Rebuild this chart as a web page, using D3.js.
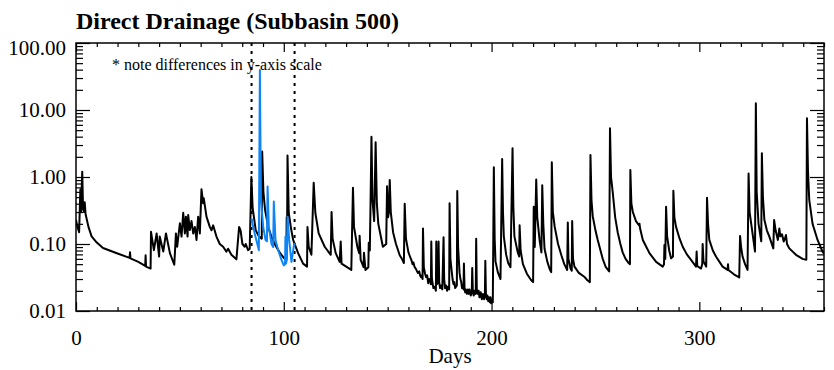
<!DOCTYPE html>
<html>
<head>
<meta charset="utf-8">
<script src="https://cdn.jsdelivr.net/npm/d3@7"></script>
<style>
body { margin: 0; background: #fff; }
text { font-family: "Liberation Serif", "Times New Roman", serif; fill: #000; }
</style>
</head>
<body>
<script>
// Direct drainage, subbasin 500 : [day, value]
var drainage = [
[0,0.23],[0.5,0.19],[1.5,0.15],[2.1,0.65],[2.4,0.3],[3.0,1.2],[3.4,0.33],[3.9,0.3],[4.2,0.42],[4.6,0.28],[6,0.18],[7.5,0.13],[10,0.105],[13,0.087],
[20,0.072],[25.8,0.062],[26,0.075],[26.2,0.061],[30,0.054],[33.3,0.047],[33.5,0.068],[33.7,0.046],[35.9,0.043],
[36.1,0.152],[37.5,0.081],[38.8,0.144],[40,0.065],[40.3,0.129],[42,0.077],[43.3,0.144],[45.2,0.073],[47.3,0.049],[48.1,0.144],[48.7,0.091],[50,0.204],[50.8,0.129],[51.6,0.293],[52.4,0.144],[52.9,0.256],[53.7,0.129],[54,0.27],[54.8,0.162],[55.6,0.22],[56.4,0.144],[57.2,0.18],[58,0.115],[58.8,0.256],[59.6,0.144],[60.4,0.655],[61.2,0.405],[61.5,0.48],[62.8,0.256],[64.4,0.18],[65.2,0.16],[66,0.19],[67.6,0.129],[69.2,0.1],[70.8,0.091],[72.4,0.077],[73.2,0.085],[74.8,0.069],[77.2,0.059],[78.5,0.18],[79.2,0.16],[80.1,0.1],[81.2,0.091],[81.7,0.1],[82.8,0.081],[83.6,0.085],[84.4,1.0],
[85,0.35],[86.5,0.16],[88,0.13],[89.4,0.12],[89.6,2.4],[90.2,0.6],[91,0.32],[92.5,0.18],[94,0.13],[96,0.095],[98,0.075],[100,0.062],[101.2,0.057],[101.4,0.25],[101.6,0.15],[101.8,2.1],[102.4,0.29],[103.5,0.17],[104.5,0.115],[106.9,0.073],[109.3,0.051],[111.2,0.046],[111.4,0.18],[112,0.091],[113.3,0.069],[114.4,0.82],[115.2,0.29],[116.8,0.144],[119.7,0.091],[122.6,0.069],[123,0.3],[123.5,0.12],[125,0.073],[126.9,0.054],[127.4,0.109],[127.8,0.051],[132.5,0.041],[133.3,0.69],[133.8,0.18],[135.4,0.091],[136.3,0.073],[136.5,0.133],[137,0.058],[138.4,0.045],[138.6,0.074],[139.3,0.041],[140.7,0.045],[140.9,0.104],[141.4,0.08],[141.7,0.3],[142.2,4.0],[142.7,0.45],[143.5,0.22],[144.2,3.3],[144.8,0.4],[145.5,0.2],[146.5,0.14],[147.7,0.091],[149.3,0.1],[149.7,0.73],[150.2,0.25],[150.6,0.3],[151,0.9],[151.5,0.3],[152.6,0.15],[154,0.1],[155.8,0.068],[156.6,0.062],[157.2,0.057],[157.8,0.052],[158.2,0.4],[158.8,0.12],[160,0.075],[160.5,0.068],[161,0.062],[161.4,0.058],[162,0.05],[162.4,0.053],[163,0.045],[163.5,0.043],[164,0.04],[164.6,0.037],[165.2,0.039],[165.6,0.034],[166,0.032],[166.4,0.034],[166.8,0.03],[167,0.17],[167.4,0.045],[168,0.036],[168.5,0.032],[169,0.034],[169.5,0.026],[170,0.03],[170.5,0.028],[170.8,0.025],[171,0.109],[171.3,0.03],[172,0.022],[172.6,0.023],[173.2,0.02],[173.4,0.109],[173.7,0.025],[173.9,0.046],[174.2,0.026],[174.5,0.109],[174.8,0.027],[175.2,0.022],[175.7,0.024],[176.3,0.021],[176.9,0.126],[177.2,0.03],[177.6,0.022],[178.1,0.024],[178.6,0.02],[179,0.023],[179.6,0.021],[179.8,0.405],[180.2,0.06],[180.9,0.037],[181.3,0.029],[181.7,0.025],[182.1,0.027],[182.5,0.022],[183.3,0.024],[183.5,0.618],[183.9,0.09],[184.6,0.037],[185,0.03],[185.4,0.027],[185.8,0.022],[186.2,0.024],[186.5,0.021],[186.7,0.051],[187,0.022],[187.3,0.019],[187.6,0.021],[188.1,0.018],[188.6,0.021],[189,0.018],[189.4,0.021],[190,0.017],[190.5,0.02],[190.7,0.044],[191,0.019],[191.4,0.017],[191.8,0.02],[192.4,0.018],[192.6,0.12],[192.9,0.021],[193.4,0.018],[193.8,0.02],[194.2,0.016],[194.8,0.019],[195.3,0.015],[195.8,0.018],[196.4,0.015],[196.8,0.018],[197,0.056],[197.3,0.017],[197.7,0.015],[198,0.017],[198.4,0.014],[198.7,0.016],[199.2,0.0135],[199.5,0.016],[199.8,0.013],[200.3,0.015],[200.6,0.0135],[201.1,1.4],[201.5,0.12],[201.9,0.055],[203,0.038],[204.3,0.03],[205.1,1.86],[205.5,0.3],[205.9,0.13],[207,0.07],[208,0.052],[209.1,0.045],[210.1,2.68],[210.5,0.35],[211,0.13],[212.6,0.075],[213.3,0.065],[213.5,0.19],[214,0.08],[215.1,0.05],[217,0.036],[219,0.029],[220,0.027],[220.3,0.36],[220.8,0.09],[221.5,0.92],[222,0.25],[223.1,0.115],[224,0.075],[224.4,0.75],[224.9,0.2],[225.5,0.085],[226.8,0.055],[228,0.042],[228.7,0.038],[229,1.66],[229.5,0.3],[230.4,0.18],[232,0.1],[233.6,0.068],[235,0.05],[236.4,0.041],[236.7,0.21],[237,0.06],[238,0.043],[238.6,0.04],[238.8,0.22],[239.2,0.06],[239.9,0.046],[242,0.037],[244.6,0.0325],[246,0.029],[247.3,0.027],[247.6,2.13],[248.1,0.45],[248.7,0.26],[250,0.16],[251.1,0.115],[253.5,0.06],[255,0.045],[256.6,0.039],[257,5.33],[257.5,1.0],[258.3,0.6],[259.5,0.25],[260.7,0.15],[262,0.1],[263.1,0.075],[264.5,0.06],[266,0.052],[266.6,0.05],[266.8,1.27],[267.3,0.4],[268,0.3],[269.5,0.22],[271,0.19],[271.2,0.2],[271.5,0.17],[272.8,0.115],[274.5,0.09],[276,0.073],[279.2,0.054],[282.4,0.046],[283,0.05],[283.2,0.097],[283.6,0.06],[284,0.36],[284.5,0.13],[285.5,0.08],[286.4,0.061],[287.3,0.065],[287.5,0.625],[288,0.25],[288.8,0.18],[290.5,0.12],[292,0.091],[294,0.07],[296,0.058],[298.4,0.046],[298.7,0.077],[299,0.047],[300.8,0.043],[301.4,0.05],[301.6,0.1],[302,0.055],[303.3,0.046],[303.7,0.49],[304.2,0.2],[304.8,0.115],[306.5,0.08],[308,0.065],[311.2,0.046],[313.6,0.041],[313.8,0.05],[314,0.041],[316.8,0.035],[319.2,0.0317],[319.6,0.132],[320.1,0.09],[320.8,0.065],[322,0.05],[323.2,0.041],[323.7,1.13],[324.2,0.3],[325.6,0.144],[326.8,0.077],[327.2,12.6],[327.6,0.6],[328.5,0.2],[329.8,0.11],[330.1,2.26],[330.6,0.5],[331.3,0.23],[332.5,0.16],[333.7,0.129],[335.6,0.086],[336,0.228],[336.7,0.16],[337.8,0.115],[338.5,0.17],[339,0.13],[339.8,0.14],[340.6,0.109],[341.2,0.12],[341.7,0.136],[342.2,0.1],[343.3,0.086],[346.5,0.069],[349.7,0.06],[351.5,0.058],[351.8,7.5],[352.3,1.2],[352.9,0.454],[354.5,0.2],[356.9,0.115],[359.3,0.077],[360,0.072]
];

// second run inside the marked window (blue)
var drainageWindow = [
[84.4,0.24],[86,0.144],[88,0.081],[88.5,39.5],[89,0.45],[90.1,0.18],[91.2,0.115],[91.9,0.11],[92.2,0.72],[92.8,0.18],[94.1,0.1],[94.9,0.09],[95.2,0.43],[96,0.115],[97.3,0.081],[98.9,0.058],[100,0.048],[100.6,0.05],[100.8,0.128],[101.1,0.051],[101.5,0.06],[101.8,0.256],[102.6,0.115],[103.7,0.054],[105,0.1],[105.4,0.095]
];

var windowDays = [84.5, 105.2];
var xMajor = [0, 100, 200, 300];
var yMajor = [0.01, 0.1, 1, 10, 100];

var width = 834, height = 370;
var margin = {top: 43, right: 10, bottom: 59, left: 76};

var svg = d3.select("body").append("svg")
    .attr("width", width)
    .attr("height", height);

var x = d3.scaleLinear().domain([0, 360]).range([margin.left, width - margin.right]);
var y = d3.scaleLog().domain([0.01, 100]).range([height - margin.bottom, margin.top]);

//minor ticks
var xMinor = d3.range(0, 361, 10).filter(function(d){ return xMajor.indexOf(d) < 0; });
var yMinor = [];
for (var e = -2; e < 2; e++) {
  for (var m = 2; m <= 9; m++) yMinor.push(m * Math.pow(10, e));
}

function addAxis(axis, tx, ty) {
  var g = svg.append("g").attr("transform", "translate(" + tx + "," + ty + ")").call(axis);
  g.select(".domain").remove();
  g.selectAll("line").attr("stroke", "#000").attr("stroke-width", 1.2);
  g.selectAll("text").attr("font-size", 21).attr("fill", "#000")
    .attr("font-family", "'Liberation Serif', serif");
  return g;
}

var bottomY = height - margin.bottom, rightX = width - margin.right;

var yAxisG = addAxis(d3.axisLeft(y).tickValues(yMajor).tickFormat(d3.format(".2f")).tickSize(-14).tickPadding(10), margin.left, 0);
// top label sits a little below its tick in the original
yAxisG.selectAll("text").filter(function(d){ return d === 100; }).attr("dy", "0.55em");
addAxis(d3.axisLeft(y).tickValues(yMinor).tickFormat("").tickSize(-7), margin.left, 0);
addAxis(d3.axisRight(y).tickValues(yMajor).tickFormat("").tickSize(-14), rightX, 0);
addAxis(d3.axisRight(y).tickValues(yMinor).tickFormat("").tickSize(-7), rightX, 0);
addAxis(d3.axisBottom(x).tickValues(xMajor).tickFormat(d3.format("d")).tickSize(-9).tickPadding(19), 0, bottomY);
addAxis(d3.axisBottom(x).tickValues(xMinor).tickFormat("").tickSize(-4), 0, bottomY);
addAxis(d3.axisTop(x).tickValues(xMajor).tickFormat("").tickSize(-9), 0, margin.top);
addAxis(d3.axisTop(x).tickValues(xMinor).tickFormat("").tickSize(-4), 0, margin.top);

svg.append("clipPath").attr("id", "plotclip").append("rect")
    .attr("x", margin.left).attr("y", margin.top)
    .attr("width", rightX - margin.left).attr("height", bottomY - margin.top);

var line = d3.line()
    .x(function(d){ return x(d[0]); })
    .y(function(d){ return y(d[1]); });

var plot = svg.append("g").attr("clip-path", "url(#plotclip)");

plot.selectAll(".window").data(windowDays).enter().append("line")
    .attr("class", "window")
    .attr("x1", function(d){ return x(d); })
    .attr("x2", function(d){ return x(d); })
    .attr("y1", margin.top).attr("y2", bottomY)
    .attr("stroke", "#000").attr("stroke-width", 2)
    .attr("stroke-dasharray", "3,5");

plot.append("path").datum(drainage)
    .attr("d", line)
    .attr("fill", "none").attr("stroke", "#000")
    .attr("stroke-width", 2).attr("stroke-linejoin", "round");

plot.append("path").datum(drainageWindow)
    .attr("d", line)
    .attr("fill", "none").attr("stroke", "#0f84f5")
    .attr("stroke-width", 2).attr("stroke-linejoin", "round");

//frame
svg.append("rect")
    .attr("x", margin.left).attr("y", margin.top)
    .attr("width", rightX - margin.left).attr("height", bottomY - margin.top)
    .attr("fill", "none").attr("stroke", "#000").attr("stroke-width", 1.5);

svg.append("text")
    .attr("x", margin.left).attr("y", 29)
    .attr("font-size", 24).attr("font-weight", "bold")
    .text("Direct Drainage (Subbasin 500)");

svg.append("text")
    .attr("x", margin.left + 36).attr("y", 70)
    .attr("font-size", 16)
    .text("* note differences in y-axis scale");

svg.append("text")
    .attr("x", (margin.left + rightX) / 2).attr("y", 363)
    .attr("text-anchor", "middle")
    .attr("font-size", 21)
    .text("Days");
</script>
</body>
</html>
